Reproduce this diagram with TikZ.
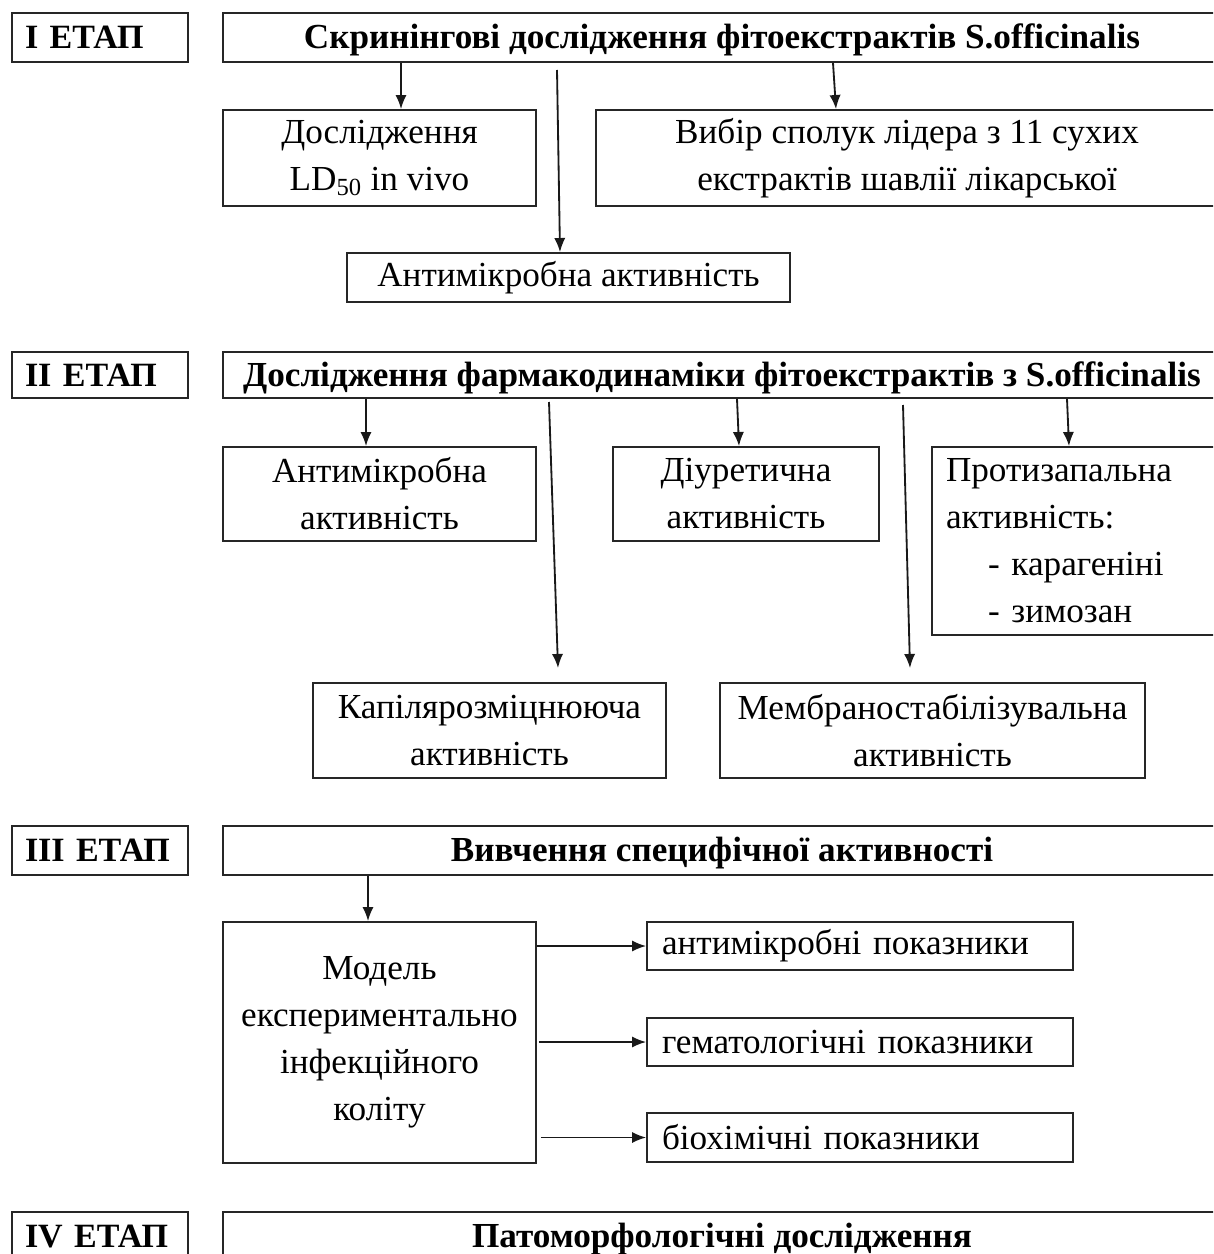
\documentclass[tikz,border=0pt]{standalone}
\usepackage{fontspec}
\setmainfont{Liberation Serif}
\usetikzlibrary{arrows.meta}
\def\PXu{0.025cm}
\begin{document}
\begin{tikzpicture}[x=0.025cm, y=-0.025cm,
  box/.style={draw=black!85, line width=1.3pt, rectangle, inner sep=0pt, align=center,
    font=\fontsize{25}{33.4}\selectfont},
  hdr/.style={box, font=\fontsize{25}{33.4}\selectfont\bfseries, text height=17pt, text depth=1pt},
  lab/.style={box, font=\fontsize{24.2}{33.4}\selectfont\bfseries, text width=150*\PXu, align=left,
    minimum width=176*\PXu},
  sz/.style 2 args={minimum width=#1*\PXu, minimum height=#2*\PXu},
  arr/.style={draw=black!90, line width=1.3pt, -{Latex[length=10pt,width=8pt]}}]
\clip (0,0) rectangle (1213,1254);
\fill[white] (0,0) rectangle (1213,1254);

% ---- Stage I
\node[lab, minimum height=49*\PXu] (lab1) at (100,37.5) {I ЕТАП};
\node[hdr, sz={998}{49}] (h1) at (722,37.5) {Скринінгові дослідження фітоекстрактів S.officinalis};
\node[box, sz={313}{96}] (ld) at (379.5,158) {Дослідження\\LD\textsubscript{50} in vivo};
\node[box, sz={622}{96}] (vyb) at (907,158) {Вибір сполук лідера з 11 сухих\\екстрактів шавлії лікарської};
\node[box, sz={443}{49}] (am1) at (568.5,277.5) {Антимікробна активність};

\coordinate (c1) at (401,0);
\coordinate (s2) at (557,70);
\coordinate (e2) at (560,0);
\coordinate (s3) at (833,0);
\coordinate (e3) at (836,0);
\draw[arr] (h1.south -| c1) -- (ld.north -| c1);
\draw[arr] (s2) -- (am1.north -| e2);
\draw[arr] (h1.south -| s3) -- (vyb.north -| e3);

% ---- Stage II
\node[lab, minimum height=46*\PXu] (lab2) at (100,375) {II ЕТАП};
\node[hdr, sz={998}{46}] (h2) at (722,375) {Дослідження фармакодинаміки фітоекстрактів з S.officinalis};
\node[box, sz={313}{94}] (am2) at (379.5,494) {Антимікробна\\активність};
\node[box, sz={266}{94}] (diu) at (746,494) {Діуретична\\активність};
\node[box, sz={288}{188}, text width=260*\PXu, align=left] (prot) at (1076,541)
  {Протизапальна\\активність:\\\hspace*{29.9pt}- карагеніні\\\hspace*{29.9pt}- зимозан};
\node[box, sz={353}{95}] (kap) at (489.5,730.5) {Капілярозміцнююча\\активність};
\node[box, sz={425}{95}] (mem) at (932.5,730.5) {Мембраностабілізувальна\\активність};

\coordinate (c2a) at (366,0);
\coordinate (s2b) at (549,402);
\coordinate (e2b) at (558,668);
\coordinate (s2c) at (737,0);
\coordinate (e2c) at (739,0);
\coordinate (s2d) at (903,405);
\coordinate (e2d) at (910,668);
\coordinate (s2e) at (1067,0);
\coordinate (e2e) at (1069,0);
\draw[arr] (h2.south -| c2a) -- (am2.north -| c2a);
\draw[arr] (s2b) -- (e2b);
\draw[arr] (h2.south -| s2c) -- (diu.north -| e2c);
\draw[arr] (s2d) -- (e2d);
\draw[arr] (h2.south -| s2e) -- (prot.north -| e2e);

% ---- Stage III
\node[lab, minimum height=49*\PXu] (lab3) at (100,850.5) {III ЕТАП};
\node[hdr, sz={998}{49}] (h3) at (722,850.5) {Вивчення специфічної активності};
\node[box, sz={313}{241}] (mod) at (379.5,1042.5) {Модель\\експериментально\\інфекційного\\коліту};
\node[box, sz={426}{48}, text width=396*\PXu, align=left] (p1) at (860,946) {антимікробні показники};
\node[box, sz={426}{48}, text width=396*\PXu, align=left] (p2) at (860,1042) {гематологічні показники};
\node[box, sz={426}{49}, text width=396*\PXu, align=left] (p3) at (860,1137.5) {біохімічні показники};

\coordinate (c3) at (368,0);
\draw[arr] (h3.south -| c3) -- (mod.north -| c3);
\draw[arr] (mod.east |- p1.west) -- (p1.west);
\draw[arr] ([xshift=2*\PXu]mod.east |- p2.west) -- (p2.west);
\draw[arr] ([xshift=4*\PXu]mod.east |- p3.west) -- (p3.west);

% ---- Stage IV
\node[lab, minimum height=49*\PXu] (lab4) at (100,1236.5) {IV ЕТАП};
\node[hdr, sz={998}{49}] (h4) at (722,1236.5) {Патоморфологічні дослідження};
\end{tikzpicture}
\end{document}
